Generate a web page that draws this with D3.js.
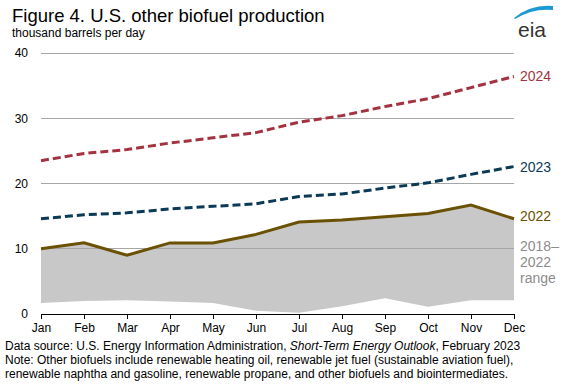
<!DOCTYPE html>
<html>
<head>
<meta charset="utf-8">
<script src="https://cdn.jsdelivr.net/npm/d3@7"></script>
<style>
  body { margin: 0; background: #ffffff; }
  svg { font-family: "Liberation Sans", Arial, sans-serif; display: block; }
  .grid line { stroke: #a6a6a6; stroke-width: 1; shape-rendering: crispEdges; }
  .x.axis path, .x.axis line { stroke: #000000; shape-rendering: crispEdges; }
  .axis text { fill: #000000; font-size: 12px; }
</style>
</head>
<body>
<div id="chart"></div>
<script>
const months = ['Jan', 'Feb', 'Mar', 'Apr', 'May', 'Jun', 'Jul', 'Aug', 'Sep', 'Oct', 'Nov', 'Dec'];
const yTicks = [0, 10, 20, 30, 40];

const series2024 = [23.5, 24.6, 25.2, 26.2, 27.0, 27.8, 29.4, 30.4, 31.8, 33.0, 34.7, 36.4];
const series2023 = [14.6, 15.2, 15.5, 16.1, 16.5, 16.9, 18.0, 18.4, 19.3, 20.1, 21.4, 22.6];
const series2022 = [10.0, 10.9, 9.0, 10.9, 10.9, 12.2, 14.1, 14.4, 14.9, 15.4, 16.7, 14.6];
const rangeLow = [1.7, 2.0, 2.1, 1.9, 1.7, 0.5, 0.2, 1.2, 2.4, 1.1, 2.1, 2.1];
const rangeHigh = [10.0, 10.9, 9.0, 10.9, 10.9, 12.2, 14.1, 14.4, 14.9, 15.4, 16.7, 14.6];

const width = 563, height = 387;
const margin = { top: 53, right: 49, bottom: 73, left: 41 };

const svg = d3.select('#chart').append('svg')
  .attr('width', width)
  .attr('height', height);

const x = d3.scalePoint()
  .domain(months)
  .range([margin.left, width - margin.right]);

const y = d3.scaleLinear()
  .domain([0, 40])
  .range([height - margin.bottom, margin.top]);

// titles
svg.append('text')
  .attr('x', 12).attr('y', 22)
  .attr('font-size', 18.5)
  .attr('fill', '#000')
  .text('Figure 4. U.S. other biofuel production');

svg.append('text')
  .attr('x', 12).attr('y', 37)
  .attr('font-size', 12)
  .attr('fill', '#000')
  .text('thousand barrels per day');

// eia logo
const logo = svg.append('g').attr('transform', 'translate(513,0)');
logo.append('path')
  .attr('d', 'M1,18 Q18,4 40,6 L40,10 Q20,8 2,19 Z')
  .attr('fill', '#1c9ad6');
logo.append('text')
  .attr('x', 19).attr('y', 37)
  .attr('text-anchor', 'middle')
  .attr('font-size', 21)
  .attr('fill', '#333333')
  .text('eia');

// grid
svg.append('g')
  .attr('class', 'grid')
  .selectAll('line')
  .data(yTicks.filter((d) => d > 0))
  .join('line')
  .attr('x1', margin.left)
  .attr('x2', width - margin.right)
  .attr('y1', (d) => y(d))
  .attr('y2', (d) => y(d));

// range area
const area = d3.area()
  .x((d, i) => x(months[i]))
  .y0((d, i) => y(rangeLow[i]))
  .y1((d) => y(d));

svg.append('path')
  .datum(rangeHigh)
  .attr('d', area)
  .attr('fill', '#c8c8c8');

// gridline on top of area (10 line visible through fill)
svg.append('line')
  .attr('x1', margin.left).attr('x2', width - margin.right)
  .attr('y1', y(10)).attr('y2', y(10))
  .attr('stroke', '#a6a6a6')
  .attr('shape-rendering', 'crispEdges');

const line = d3.line()
  .x((d, i) => x(months[i]))
  .y((d) => y(d));

svg.append('path')
  .datum(series2024)
  .attr('d', line)
  .attr('fill', 'none')
  .attr('stroke', '#a33340')
  .attr('stroke-width', 3)
  .attr('stroke-dasharray', '8,4');

svg.append('path')
  .datum(series2023)
  .attr('d', line)
  .attr('fill', 'none')
  .attr('stroke', '#0a3a55')
  .attr('stroke-width', 3)
  .attr('stroke-dasharray', '8,4');

svg.append('path')
  .datum(series2022)
  .attr('d', line)
  .attr('fill', 'none')
  .attr('stroke', '#6b5103')
  .attr('stroke-width', 3);

// axes
svg.append('g')
  .attr('class', 'x axis')
  .attr('transform', `translate(0,${y(0)})`)
  .call(d3.axisBottom(x).tickSize(5).tickSizeOuter(0).tickPadding(4))
  .call((g) => g.select('.domain').attr('d', `M${margin.left},0.5H${width - margin.right}`));

svg.append('g')
  .attr('class', 'y axis')
  .attr('transform', `translate(${margin.left},0)`)
  .call(d3.axisLeft(y).tickValues(yTicks).tickSize(0).tickPadding(13))
  .call((g) => g.select('.domain').remove());

// series labels
const last = months.length - 1;
const labelX = width - margin.right + 6;
svg.append('text')
  .attr('x', labelX).attr('y', y(series2024[last]) + 5)
  .attr('font-size', 14).attr('fill', '#a33340')
  .text('2024');
svg.append('text')
  .attr('x', labelX).attr('y', y(series2023[last]) + 5)
  .attr('font-size', 14).attr('fill', '#0a3a55')
  .text('2023');
svg.append('text')
  .attr('x', labelX).attr('y', y(series2022[last]) + 2)
  .attr('font-size', 14).attr('fill', '#6b5103')
  .text('2022');

const rangeLabel = svg.append('text')
  .attr('x', labelX).attr('y', y(10))
  .attr('font-size', 14).attr('fill', '#8c8c8c');
['2018–', '2022', 'range'].forEach((t, i) => {
  rangeLabel.append('tspan')
    .attr('x', labelX)
    .attr('dy', i === 0 ? 2 : 16)
    .text(t);
});

// footer
const foot = svg.append('g').attr('font-size', 12).attr('fill', '#000');
const src = foot.append('text').attr('x', 5).attr('y', 350);
src.append('tspan').text('Data source: U.S. Energy Information Administration, ');
src.append('tspan').attr('font-style', 'italic').text('Short-Term Energy Outlook');
src.append('tspan').text(', February 2023');
foot.append('text').attr('x', 5).attr('y', 364)
  .text('Note: Other biofuels include renewable heating oil, renewable jet fuel (sustainable aviation fuel),');
foot.append('text').attr('x', 5).attr('y', 378)
  .text('renewable naphtha and gasoline, renewable propane, and other biofuels and biointermediates.');
</script>
</body>
</html>
